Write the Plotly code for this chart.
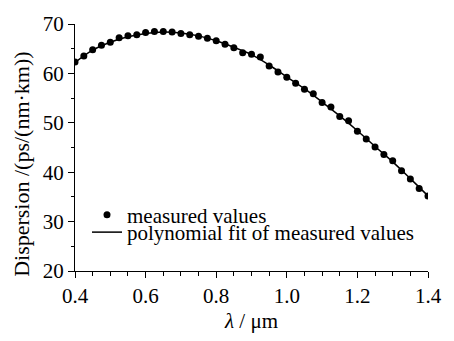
import plotly.graph_objects as go

# measured dispersion values
wl_measured = [0.400, 0.425, 0.450, 0.475, 0.500, 0.525, 0.550, 0.575, 0.600, 0.625,
               0.650, 0.675, 0.700, 0.725, 0.750, 0.775, 0.800, 0.825, 0.850, 0.875,
               0.900, 0.925, 0.950, 0.975, 1.000, 1.025, 1.050, 1.075, 1.100, 1.125,
               1.150, 1.175, 1.200, 1.225, 1.250, 1.275, 1.300, 1.325, 1.350, 1.375,
               1.400]
disp_measured = [62.3, 63.5, 64.8, 65.7, 66.3, 67.2, 67.6, 67.8, 68.3, 68.5,
                 68.5, 68.4, 68.1, 67.8, 67.5, 67.1, 66.6, 65.9, 65.2, 64.2,
                 63.9, 63.3, 61.5, 60.3, 59.2, 58.0, 56.8, 55.9, 54.1, 53.2,
                 51.3, 50.4, 48.3, 46.7, 45.1, 43.6, 42.3, 40.3, 38.6, 36.7,
                 35.2]

# polynomial fit curve
wl_fit = [0.40, 0.45, 0.50, 0.55, 0.60, 0.65, 0.70, 0.75, 0.80, 0.85, 0.90,
          0.95, 1.00, 1.05, 1.10, 1.15, 1.20, 1.25, 1.30, 1.35, 1.40]
disp_fit = [62.2, 64.7, 66.3, 67.4, 68.1, 68.4, 68.2, 67.6, 66.6, 65.3, 63.8,
            61.7, 59.3, 56.9, 54.2, 51.4, 48.4, 45.2, 42.1, 38.7, 35.2]

x_ticks = [0.4, 0.6, 0.8, 1.0, 1.2, 1.4]
x_ticklabels = ["0.4", "0.6", "0.8", "1.0", "1.2", "1.4"]
y_ticks = [20, 30, 40, 50, 60, 70]

FONT = "Liberation Serif"

fig = go.Figure()
fig.add_trace(go.Scatter(
    x=wl_fit, y=disp_fit, mode="lines", line=dict(color="black", width=1.5, shape="spline"),
    name="polynomial fit of measured values", legend="legend2"))
fig.add_trace(go.Scatter(
    x=wl_measured, y=disp_measured, mode="markers",
    marker=dict(color="black", size=7),
    name="measured values", legend="legend"))

tickfont = dict(family=FONT, size=21, color="black")

fig.update_xaxes(
    range=[0.4, 1.4], tickvals=x_ticks, ticktext=x_ticklabels,
    showgrid=False, zeroline=False, showline=True, linecolor="black", linewidth=1.2,
    ticks="outside", tickcolor="black", tickwidth=1.2, ticklen=6, tickfont=tickfont,
    minor=dict(dtick=0.05, tick0=0.4, ticks="outside", ticklen=4, tickcolor="black", tickwidth=1.2),
    title=dict(text="<i>λ</i> / μm", font=dict(family=FONT, size=21, color="black"), standoff=6))
fig.update_yaxes(
    range=[20, 70], tickvals=y_ticks,
    showgrid=False, zeroline=False, showline=True, linecolor="black", linewidth=1.2,
    ticks="outside", tickcolor="black", tickwidth=1.2, ticklen=6, tickfont=tickfont,
    minor=dict(dtick=5, tick0=20, ticks="outside", ticklen=3, tickcolor="black", tickwidth=1.2))

fig.update_layout(
    width=454, height=341,
    margin=dict(l=75, r=14, t=16, b=55),
    paper_bgcolor="white", plot_bgcolor="white",
    font=dict(family=FONT, size=21, color="black"),
    showlegend=True,
    legend=dict(xref="paper", yref="paper", x=0.034, y=0.226, xanchor="left", yanchor="middle",
                bgcolor="rgba(0,0,0,0)", borderwidth=0, itemwidth=30,
                font=dict(family=FONT, size=21, color="black")),
    legend2=dict(xref="paper", yref="paper", x=0.034, y=0.156, xanchor="left", yanchor="middle",
                 bgcolor="rgba(0,0,0,0)", borderwidth=0, itemwidth=30,
                 font=dict(family=FONT, size=21, color="black")),
    annotations=[dict(
        text="Dispersion /(ps/(nm·km))", textangle=-90,
        xref="paper", yref="paper", x=-0.15, y=0.43, xanchor="center", yanchor="middle",
        showarrow=False, font=dict(family=FONT, size=22, color="black"))],
)

fig.write_html("out.html")
